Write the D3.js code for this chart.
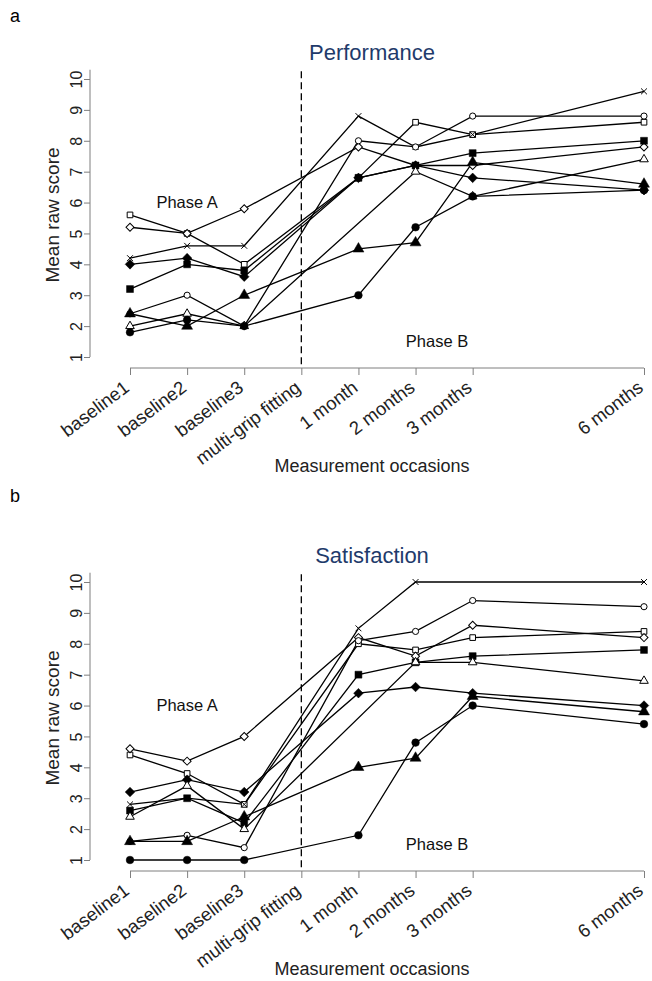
<!DOCTYPE html>
<html>
<head>
<meta charset="utf-8">
<script src="https://cdn.jsdelivr.net/npm/d3@7"></script>
<style>
  body { margin: 0; background: #fff; }
  text { font-family: "Liberation Sans", Arial, sans-serif; }
</style>
</head>
<body>
<svg id="chart" width="652" height="981"></svg>
<script>
// occasions on the x axis (position in "months", baselines one unit apart)
const occasions = ["baseline1", "baseline2", "baseline3", "multi-grip fitting", "1 month", "2 months", "3 months", "6 months"];
const occasionPos = [0, 1, 2, 3, 4, 5, 6, 9];
// occasions that carry a score (multi-grip fitting has none)
const measuredPos = [0, 1, 2, 4, 5, 6, 9];
const yTicks = [1, 2, 3, 4, 5, 6, 7, 8, 9, 10];

// a - Performance
const perfOpenSquare    = [5.6, 5.0, 4.0, 6.8, 8.6, 8.2, 8.6];
const perfOpenDiamond   = [5.2, 5.0, 5.8, 7.8, 7.2, 7.2, 7.8];
const perfCross         = [4.2, 4.6, 4.6, 8.8, 7.8, 8.2, 9.6];
const perfFilledDiamond = [4.0, 4.2, 3.6, 6.8, 7.2, 6.8, 6.4];
const perfFilledSquare  = [3.2, 4.0, 3.8, 6.8, 7.2, 7.6, 8.0];
const perfOpenCircle    = [2.4, 3.0, 2.0, 8.0, 7.8, 8.8, 8.8];
const perfFilledTri     = [2.4, 2.0, 3.0, 4.5, 4.7, 7.3, 6.6];
const perfOpenTri       = [2.0, 2.4, 2.0, null, 7.0, 6.2, 7.4];
const perfFilledCircle  = [1.8, 2.2, 2.0, 3.0, 5.2, 6.2, 6.4];

// b - Satisfaction
const satOpenSquare    = [4.4, 3.8, 2.8, 8.0, 7.8, 8.2, 8.4];
const satOpenDiamond   = [4.6, 4.2, 5.0, 8.2, 7.6, 8.6, 8.2];
const satCross         = [2.8, 3.0, 2.8, 8.5, 10.0, null, 10.0];
const satFilledDiamond = [3.2, 3.6, 3.2, 6.4, 6.6, 6.4, 6.0];
const satFilledSquare  = [2.6, 3.0, 2.2, 7.0, 7.4, 7.6, 7.8];
const satOpenCircle    = [1.6, 1.8, 1.4, 8.1, 8.4, 9.4, 9.2];
const satFilledTri     = [1.6, 1.6, 2.4, 4.0, 4.3, 6.3, 5.8];
const satOpenTri       = [2.4, 3.4, 2.0, null, 7.4, 7.4, 6.8];
const satFilledCircle  = [1.0, 1.0, 1.0, 1.8, 4.8, 6.0, 5.4];

const markerKinds = ["openSquare", "openDiamond", "cross", "filledDiamond", "filledSquare",
                     "openCircle", "filledTri", "openTri", "filledCircle"];

const panels = [
  { letter: "a", title: "Performance", top: 0, letterY: 22,
    series: [perfOpenSquare, perfOpenDiamond, perfCross, perfFilledDiamond, perfFilledSquare,
             perfOpenCircle, perfFilledTri, perfOpenTri, perfFilledCircle] },
  { letter: "b", title: "Satisfaction", top: 503, letterY: 502,
    series: [satOpenSquare, satOpenDiamond, satCross, satFilledDiamond, satFilledSquare,
             satOpenCircle, satFilledTri, satOpenTri, satFilledCircle] }
];

const svg = d3.select("#chart");
const x = d3.scaleLinear().domain([0, 9]).range([130, 644]);
const axisColor = "#7f7f7f";

function markerPath(kind) {
  const sym = d3.symbol();
  switch (kind) {
    case "openSquare":    return sym.type(d3.symbolSquare).size(32)();
    case "filledSquare":  return sym.type(d3.symbolSquare).size(48)();
    case "openCircle":    return sym.type(d3.symbolCircle).size(30)();
    case "filledCircle":  return sym.type(d3.symbolCircle).size(46)();
    case "openTri":       return sym.type(d3.symbolTriangle).size(32)();
    case "filledTri":     return sym.type(d3.symbolTriangle).size(52)();
    case "openDiamond":   return sym.type(d3.symbolSquare).size(32)();
    case "filledDiamond": return sym.type(d3.symbolSquare).size(46)();
    case "cross":         return sym.type(d3.symbolTimes).size(24)();
  }
}

panels.forEach(p => {
  const y = d3.scaleLinear().domain([1, 10]).range([p.top + 357, p.top + 79]);
  const g = svg.append("g");
  const axisY = y(1) + 11;

  // panel letter
  g.append("text").attr("x", 10).attr("y", p.letterY)
    .attr("font-size", 18).attr("fill", "#000").text(p.letter);

  // title
  g.append("text").attr("x", 372).attr("y", p.top + 60).attr("text-anchor", "middle")
    .attr("font-size", 22).attr("fill", "#1f3b6b").text(p.title);

  // y axis
  const yAxis = g.append("g").attr("transform", "translate(90,0)")
    .call(d3.axisLeft(y).tickValues(yTicks).tickSize(6).tickPadding(0).tickFormat(d3.format("d")));
  yAxis.select(".domain").attr("d", `M0,${y(10.3)}V${y(1)}`).attr("stroke", axisColor);
  yAxis.selectAll(".tick line").attr("stroke", axisColor);
  yAxis.selectAll(".tick text")
    .attr("font-size", 16).attr("fill", "#222")
    .attr("x", null).attr("dy", null)
    .attr("text-anchor", "middle")
    .attr("transform", "translate(-8,0) rotate(-90)");

  g.append("text")
    .attr("transform", `translate(59,${p.top + 215}) rotate(-90)`)
    .attr("text-anchor", "middle").attr("font-size", 19).attr("fill", "#222")
    .text("Mean raw score");

  // x axis
  const xAxis = g.append("g").attr("transform", `translate(0,${axisY})`)
    .call(d3.axisBottom(x).tickValues(occasionPos).tickSize(7).tickFormat((d, i) => occasions[i]));
  xAxis.select(".domain").attr("d", `M${x(0)},0H${x(9)}`).attr("stroke", axisColor);
  xAxis.selectAll(".tick line").attr("stroke", axisColor);
  xAxis.selectAll(".tick text")
    .attr("font-size", 18.5).attr("fill", "#222")
    .attr("y", null).attr("dy", null)
    .attr("text-anchor", "end")
    .attr("transform", "translate(0,22) rotate(-37)");

  g.append("text").attr("x", 372).attr("y", axisY + 104).attr("text-anchor", "middle")
    .attr("font-size", 18).attr("fill", "#222").text("Measurement occasions");

  // dashed separator at multi-grip fitting
  g.append("line")
    .attr("x1", x(3)).attr("x2", x(3)).attr("y1", y(10.25)).attr("y2", axisY)
    .attr("stroke", "#000").attr("stroke-width", 1.3).attr("stroke-dasharray", "7,4");

  // phase labels
  g.append("text").attr("x", x(1)).attr("y", y(6)).attr("dy", "0.35em")
    .attr("text-anchor", "middle").attr("font-size", 16.5).attr("fill", "#111").text("Phase A");
  g.append("text").attr("x", 437).attr("y", y(1.5)).attr("dy", "0.35em")
    .attr("text-anchor", "middle").attr("font-size", 16.5).attr("fill", "#111").text("Phase B");

  // series lines (missing values are skipped, line joins neighbours)
  const line = d3.line().x(d => x(d.t)).y(d => y(d.v));
  p.series.forEach(vals => {
    const pts = vals.map((v, i) => ({ t: measuredPos[i], v: v })).filter(d => d.v !== null);
    g.append("path").datum(pts).attr("d", line)
      .attr("fill", "none").attr("stroke", "#000").attr("stroke-width", 1.3);
  });

  // markers
  p.series.forEach((vals, si) => {
    const kind = markerKinds[si];
    const pts = vals.map((v, i) => ({ t: measuredPos[i], v: v })).filter(d => d.v !== null);
    const open = kind.startsWith("open") || kind === "cross";
    const rot = kind.endsWith("Diamond") ? " rotate(45)" : "";
    g.selectAll(null).data(pts).enter().append("path")
      .attr("d", markerPath(kind))
      .attr("transform", d => `translate(${x(d.t)},${y(d.v)})${rot}`)
      .attr("fill", open ? (kind === "cross" ? "none" : "#fff") : "#000")
      .attr("stroke", "#000")
      .attr("stroke-width", open ? 1 : 0.5);
  });
});
</script>
</body>
</html>
